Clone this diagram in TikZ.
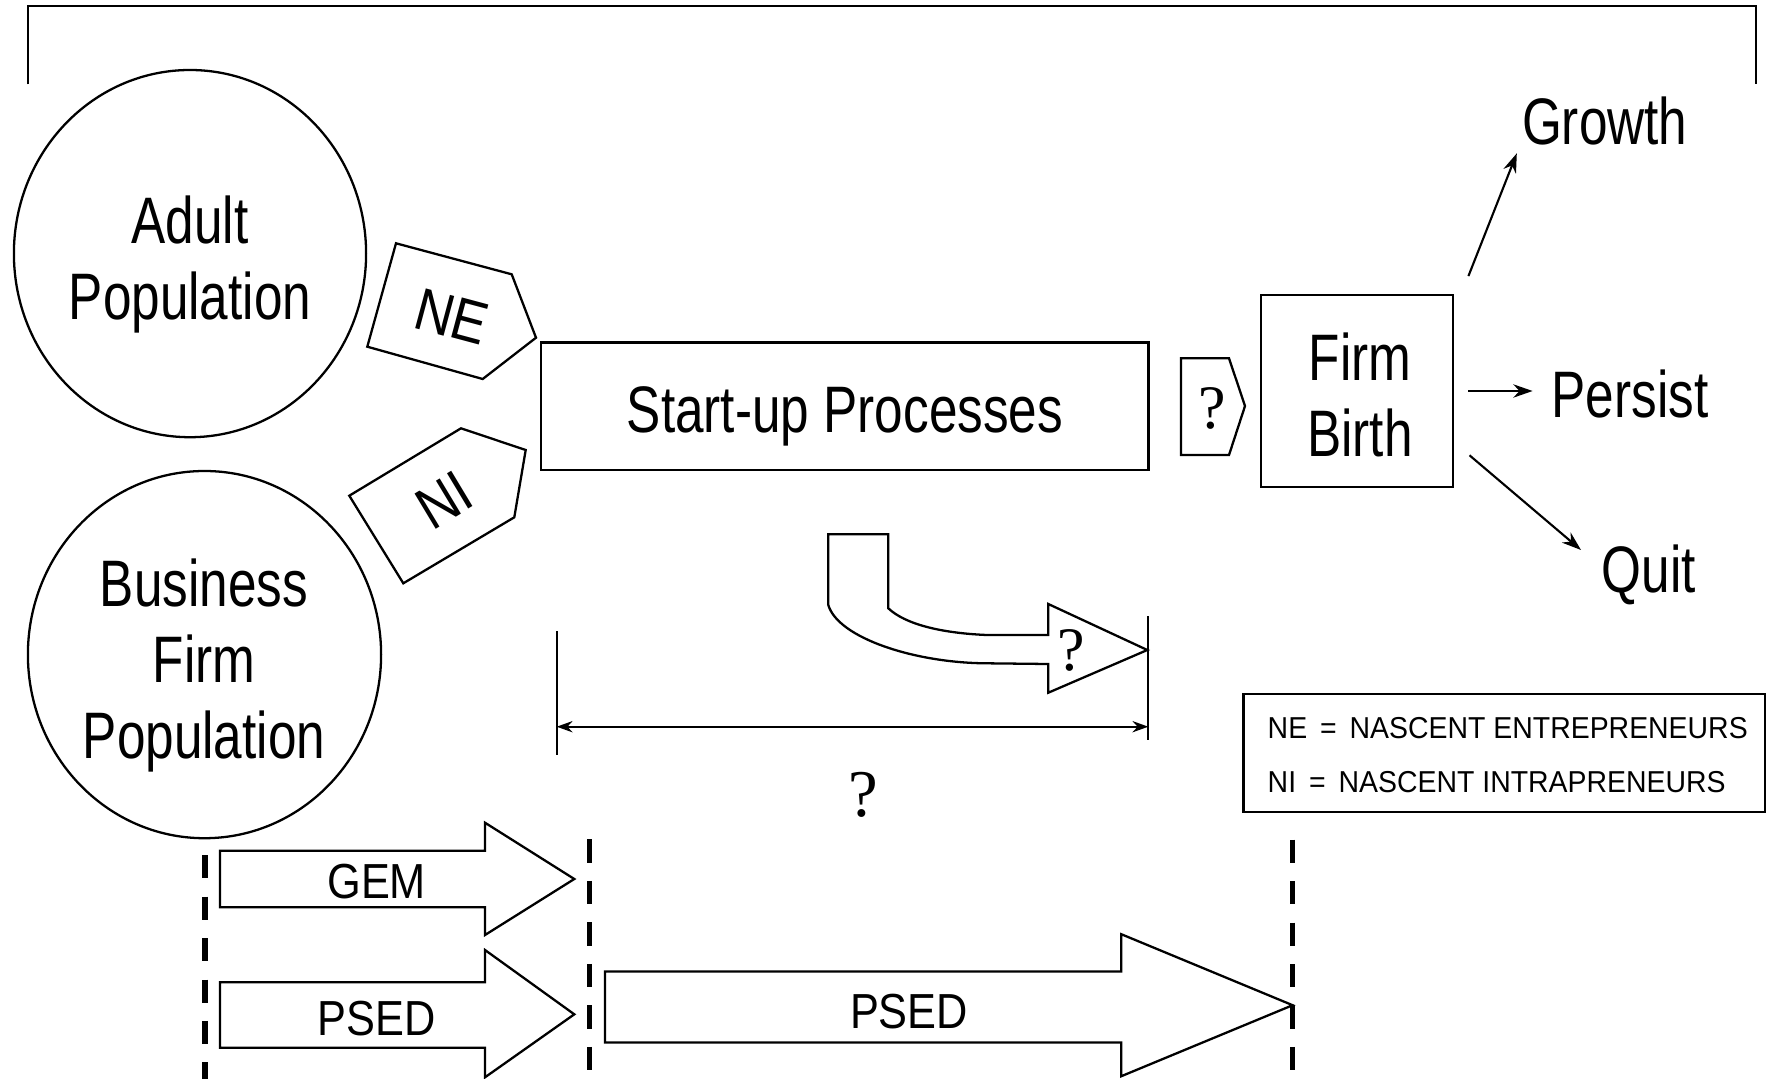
\documentclass[tikz,border=0pt]{standalone}
\usepackage{fontspec}
\setmainfont{Liberation Sans}
\newfontfamily\condfont{Liberation Sans}[FakeStretch=0.78]
\newfontfamily\midfont{Liberation Sans}[FakeStretch=0.88]
\newfontfamily\legendfont{Liberation Sans}[FakeStretch=0.94]
\newfontfamily\qfont{Liberation Serif}
\usetikzlibrary{arrows.meta,shapes.geometric}

\tikzset{
  outline/.style={draw, line width=0.65pt, line join=miter},
  thinarrow/.style={line width=0.6pt, -{Stealth[length=5.5pt,width=3.8pt]}},
  dimarrow/.style={line width=0.6pt, {Stealth[length=4.5pt,width=3.2pt]}-{Stealth[length=4.5pt,width=3.2pt]}},
  dashline/.style={line width=1.5pt, dash pattern=on 6.6pt off 5.2pt},
  biglabel/.style={font=\condfont\fontsize{18.7}{21.6}\selectfont, inner sep=0pt, align=center},
  tag/.style={font=\midfont\fontsize{17}{20}\selectfont, inner sep=0pt},
  barlabel/.style={font=\midfont\fontsize{14}{16}\selectfont, inner sep=0pt},
  legendtext/.style={font=\legendfont\fontsize{8.6}{10}\selectfont, inner sep=0pt},
  qmark/.style={font=\qfont\fontsize{17.6}{20}\selectfont, inner sep=0pt},
}

\begin{document}
\begin{tikzpicture}[x=0.01cm, y=-0.01cm]
\useasboundingbox (0,0) rectangle (1767,1079);

% overall bracket
\draw[outline] (28.2,84.5) -- (28.2,6) -- (1755.7,6) -- (1755.7,84.5);

% populations
\node[outline, ellipse, minimum width=3.52cm, minimum height=3.67cm, inner sep=0pt] (adult) at (190,253.6) {};
\node[biglabel, anchor=north] (adultlabel) at (190,195) {Adult\\Population};
\node[outline, ellipse, minimum width=3.53cm, minimum height=3.67cm, inner sep=0pt] (business) at (204.5,654.6) {};
\node[biglabel, anchor=north] (businesslabel) at (204,557.8) {Business\\Firm\\Population};

% NE / NI pentagon tags
\draw[outline] (396,243.3) -- (511.7,274.3) -- (536,337.7) -- (482.7,379) -- (367.3,346.7) -- cycle;
\node[tag, rotate=-15] (ne) at (451.7,316.7) {NE};
\draw[outline] (461,428.3) -- (525.7,450) -- (514.3,517.3) -- (403.3,583.3) -- (349.3,495.7) -- cycle;
\node[tag, rotate=31] (ni) at (444,500) {NI};

% start-up processes
\node[outline, minimum width=6.073cm, minimum height=1.274cm, inner sep=0pt] (startup) at (844.7,406.3) {};
\node[biglabel, anchor=base] (startuplabel) at (845,432.7) {Start-up Processes};

% question tag before firm birth
\draw[outline] (1181,358.3) -- (1229,358.3) -- (1245,406) -- (1229,455) -- (1181,455) -- cycle;
\node[qmark] (qtag) at (1212.7,408.3) {?};

% firm birth
\node[outline, minimum width=1.916cm, minimum height=1.915cm, inner sep=0pt] (firm) at (1356.8,391) {};
\node[biglabel, anchor=north] (firmlabel) at (1360,332.4) {Firm\\Birth};

% outcomes
\node[biglabel, anchor=base] (growth) at (1604.7,144.2) {Growth};
\node[biglabel, anchor=base] (persist) at (1630,417) {Persist};
\node[biglabel, anchor=base] (quit) at (1648.7,592.7) {Quit};
\coordinate (g0) at (1468.4,276.1);
\coordinate (g1) at (1516.8,153.3);
\coordinate (p0) at (1468.4,391);
\coordinate (p1) at (1532.6,391);
\coordinate (q0) at (1469.5,455.3);
\coordinate (q1) at (1581,550);
\draw[thinarrow] (g0) -- (g1);
\draw[thinarrow] (p0) -- (p1);
\draw[thinarrow] (q0) -- (q1);

% bent arrow
\draw[outline] (828.3,534.3) -- (888.3,534.3) -- (888.3,608.3)
  .. controls (905,624) and (940,633) .. (986.7,635) -- (1048.3,635)
  -- (1048.3,604) -- (1147.3,650) -- (1048.3,692.7) -- (1048.3,664)
  -- (986.7,663.3) .. controls (915,663) and (838,638) .. (828.3,605) -- cycle;
\node[qmark] (qbend) at (1071.7,650) {?};

% duration marker
\coordinate (dl0) at (556.7,631);
\coordinate (dl1) at (556.7,755);
\coordinate (dr0) at (1148.3,616);
\coordinate (dr1) at (1148.3,740);
\coordinate (da) at (556.7,726.7);
\coordinate (db) at (1148.3,726.7);
\draw[line width=0.65pt] (dl0) -- (dl1);
\draw[line width=0.65pt] (dr0) -- (dr1);
\draw[dimarrow] (da) -- (db);
\node[qmark, font=\qfont\fontsize{19}{22}\selectfont] (qdur) at (863.2,794.5) {?};

% legend
\node[outline, minimum width=5.213cm, minimum height=1.18cm, inner sep=0pt] (legend) at (1504.35,753) {};
\node[legendtext, anchor=base west] (legne) at (1267,738.3) {NE \,=\, NASCENT ENTREPRENEURS};
\node[legendtext, anchor=base west] (legni) at (1267,792.7) {NI \,=\, NASCENT INTRAPRENEURS};

% survey coverage markers
\coordinate (m1a) at (205,855);
\coordinate (m1b) at (205,1079);
\coordinate (m2a) at (589.3,839.3);
\coordinate (m2b) at (589.3,1079);
\coordinate (m3a) at (1292.6,839.5);
\coordinate (m3b) at (1292.6,1079);
\draw[dashline] (m1a) -- (m1b);
\draw[dashline] (m2a) -- (m2b);
\draw[dashline] (m3a) -- (m3b);

% GEM and PSED block arrows
\draw[outline] (220,850.7) -- (485,850.7) -- (485,822.7) -- (574.3,879) -- (485,935) -- (485,907.3) -- (220,907.3) -- cycle;
\node[barlabel, anchor=base] (gem) at (376.7,898.3) {GEM};
\draw[outline] (220,982.3) -- (485,982.3) -- (485,950) -- (574.3,1014.3) -- (485,1077.3) -- (485,1047.7) -- (220,1047.7) -- cycle;
\node[barlabel, anchor=base] (psedone) at (376.7,1035) {PSED};
\draw[outline] (605,971.4) -- (1121.3,971.4) -- (1121.3,934.2) -- (1292.6,1005.2) -- (1121.3,1076.2) -- (1121.3,1042.4) -- (605,1042.4) -- cycle;
\node[barlabel, anchor=base] (psedtwo) at (909,1028.3) {PSED};
\end{tikzpicture}
\end{document}
